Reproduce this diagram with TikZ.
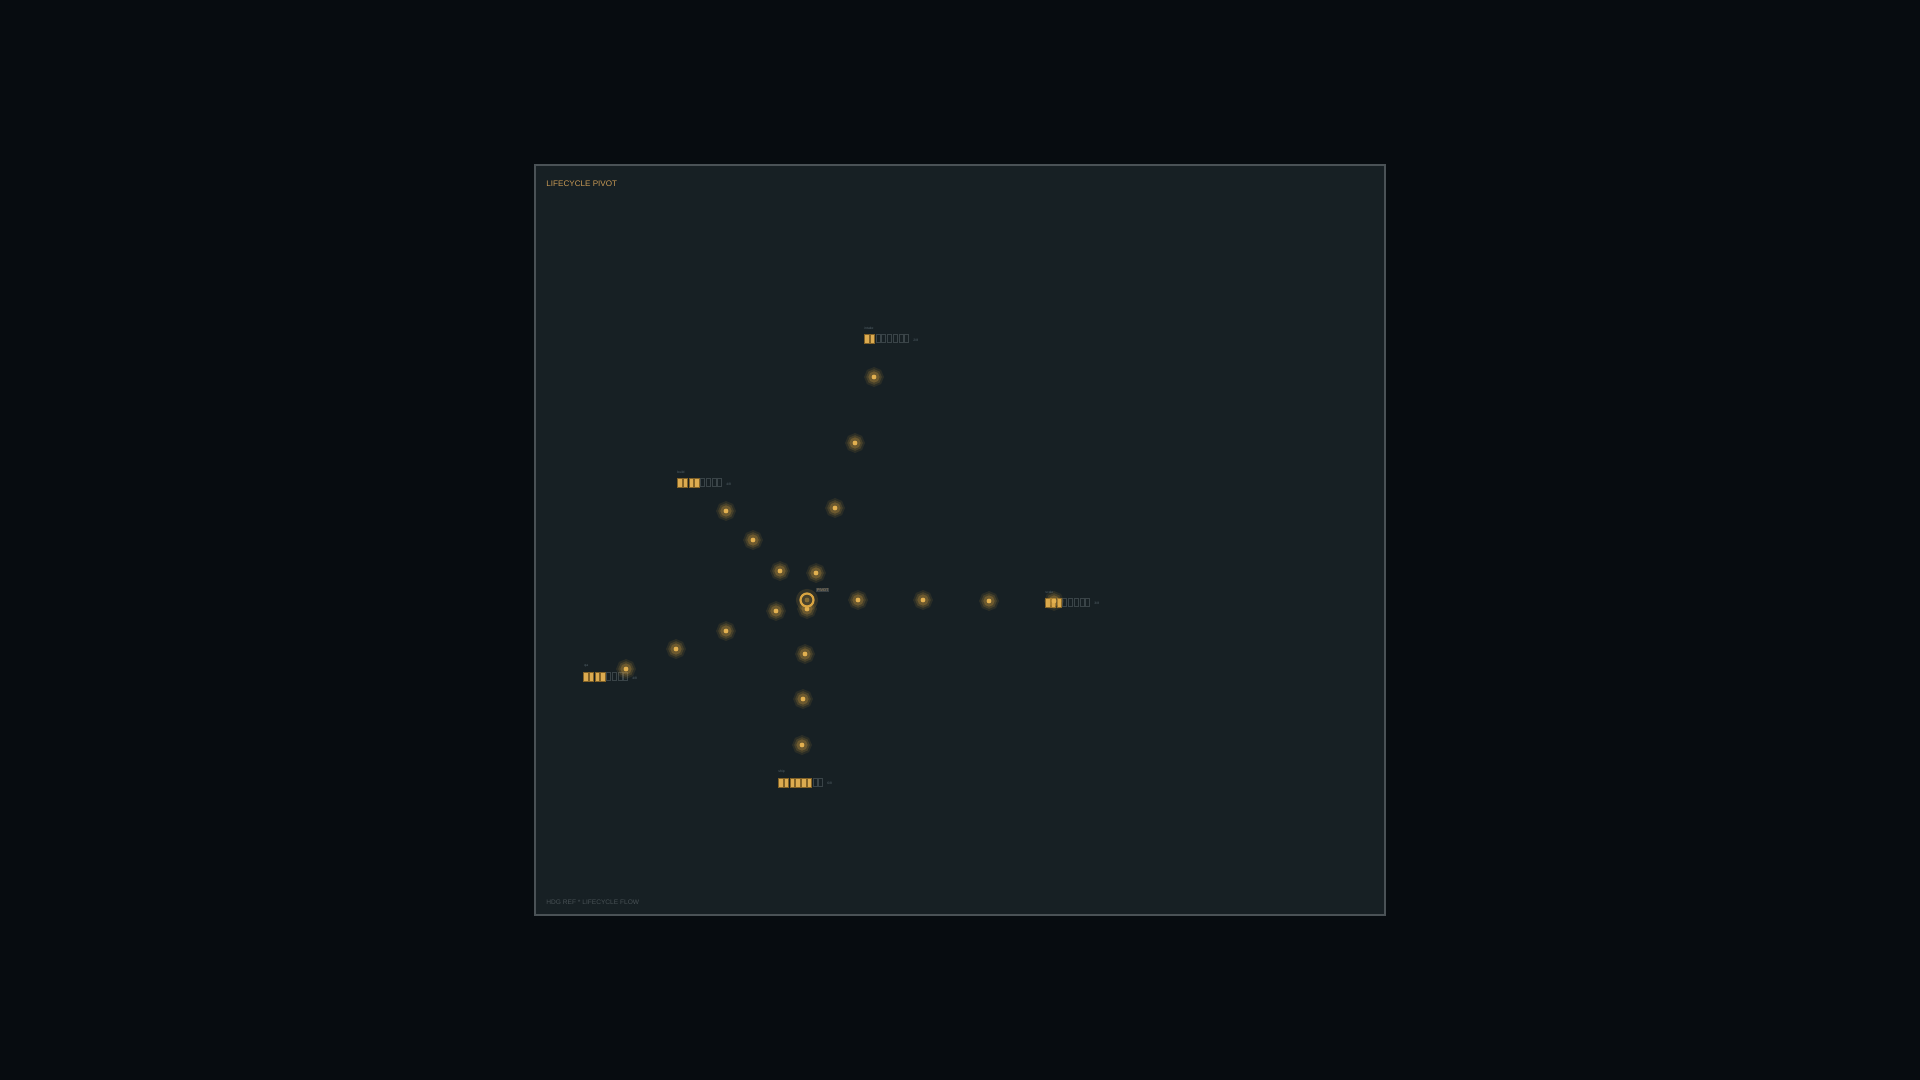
\documentclass[tikz,border=0pt]{standalone}
\usepackage{fontspec}
\setmainfont{Liberation Sans}
\definecolor{bgc}{HTML}{070C10}
\definecolor{panelc}{HTML}{172024}
\definecolor{borderc}{HTML}{4A5256}
\definecolor{goldc}{HTML}{D9A441}
\definecolor{coregc}{HTML}{E2B050}
\definecolor{titlec}{HTML}{C89A55}
\definecolor{footc}{HTML}{485155}
\definecolor{offc}{HTML}{3A4448}
\definecolor{tinyc}{HTML}{56646C}
\tikzset{
  dotnode/.style={circle, inner sep=0pt, minimum size=2.4pt, fill=coregc, draw=none,
    preaction={draw=goldc, draw opacity=.10, line width=7pt},
    preaction={draw=goldc, draw opacity=.16, line width=5pt},
    preaction={draw=goldc, draw opacity=.26, line width=3pt}},
  hubnode/.style={circle, inner sep=0pt, minimum size=6.5pt, draw=goldc, line width=1.1pt, fill=panelc!75!goldc,
    preaction={draw=goldc, draw opacity=.14, line width=4.5pt}},
  cellon/.style={fill=goldc!92!white, draw=goldc!60!black, line width=0.2pt},
  celloff/.style={draw=offc, line width=0.3pt},
  tinylabel/.style={font=\fontsize{1.7pt}{2pt}\selectfont, text=tinyc, inner sep=0pt, anchor=south west},
  traillabel/.style={font=\fontsize{1.7pt}{2pt}\selectfont, text=tinyc, inner sep=0pt, anchor=west},
  titlelabel/.style={font=\fontsize{4.05pt}{5pt}\selectfont, text=titlec, inner sep=0pt, anchor=west},
  footlabel/.style={font=\fontsize{3.3pt}{4pt}\selectfont, text=footc, inner sep=0pt, anchor=west},
}
\newcommand\lcbar[4]{% x, y-top, filled, name
  \foreach \i in {0,...,7}{%
    \ifnum\i<#3\relax
      \filldraw[cellon] ({#1+\i*5.75+0.3},{#2+0.2}) rectangle ({#1+\i*5.75+4.7},{#2+8.8});
    \else
      \draw[celloff] ({#1+\i*5.75+0.3},{#2+0.3}) rectangle ({#1+\i*5.75+4.5},{#2+8.7});
    \fi
  }%
  \coordinate (#4) at (#1,#2);
}
\begin{document}
\begin{tikzpicture}[x=0.5pt,y=-0.5pt]
\useasboundingbox (0,0) rectangle (1920,1080);
\fill[bgc] (0,0) rectangle (1920,1080);
\draw[borderc, fill=panelc, line width=1pt] (535,165) rectangle (1385,915);
\node[titlelabel] (title) at (546,184) {LIFECYCLE PIVOT};
\node[footlabel] (foot) at (546,902.5) {HDG REF * LIFECYCLE FLOW};

% bars
\lcbar{864}{334}{2}{bartop}
\node[tinylabel] (lbtop) at (864,330) {intake};
\node[traillabel] (trtop) at (913,340) {2/8};
\lcbar{677}{478}{4}{barul}
\node[tinylabel] (lbul) at (677,474) {build};
\node[traillabel] (trul) at (726,484) {4/8};
\lcbar{583}{672}{4}{barll}
\node[tinylabel] (lbll) at (584,668) {qa};
\node[traillabel] (trll) at (632,678) {4/8};
\lcbar{778}{778}{6}{barbot}
\node[tinylabel] (lbbot) at (778,774) {ship};
\node[traillabel] (trbot) at (827,783) {6/8};
\lcbar{1045}{598}{3}{barright}
\node[tinylabel] (lbright) at (1045,594) {scale};
\node[traillabel] (trright) at (1094,603) {3/8};

% dots: top branch
\node[dotnode] (t1) at (816,573) {};
\node[dotnode] (t2) at (835,508) {};
\node[dotnode] (t3) at (855,443) {};
\node[dotnode] (t4) at (874,377) {};
% upper-left
\node[dotnode] (u1) at (780,571) {};
\node[dotnode] (u2) at (753,540) {};
\node[dotnode] (u3) at (726,511) {};
% lower-left
\node[dotnode] (l1) at (776,611) {};
\node[dotnode] (l2) at (726,631) {};
\node[dotnode] (l3) at (676,649) {};
\node[dotnode] (l4) at (626,669) {};
% bottom
\node[dotnode] (b1) at (807,609) {};
\node[dotnode] (b2) at (805,654) {};
\node[dotnode] (b3) at (803,699) {};
\node[dotnode] (b4) at (802,745) {};
% right
\node[dotnode] (r1) at (858,600) {};
\node[dotnode] (r2) at (923,600) {};
\node[dotnode] (r3) at (989,601) {};
\node[dotnode] (r4) at (1054,601) {};

% hub
\node[hubnode] (hub) at (807,600) {};
\fill[goldc!55!panelc] (hub.center) circle (2.4);
\node[font=\fontsize{1.9pt}{2pt}\selectfont, text=titlec!70!tinyc, inner sep=0.3pt, fill=panelc!85!white, anchor=west] (hublbl) at (816,590) {PIVOT};
\end{tikzpicture}
\end{document}
